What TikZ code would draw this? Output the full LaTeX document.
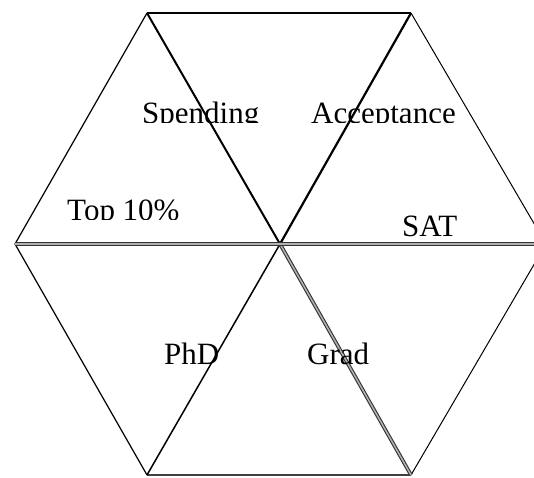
\documentclass[tikz,border=0pt]{standalone}
\usepackage{fontspec}
\setmainfont{Liberation Serif}
\begin{document}
\begin{tikzpicture}[x=1pt,y=-1pt,
  edge/.style={draw=black,line width=1.2pt},
  spoke/.style={draw=black,line width=2pt},
  dbl/.style={draw=black!80,line width=1.1pt,double=black!30,double distance=1.5pt},
  lbl/.style={anchor=base west,inner sep=0pt,font=\fontsize{31}{31}\selectfont}]
\useasboundingbox (0,0) rectangle (534,477);
\clip (0,0) rectangle (534,477);
\coordinate (C) at (280,244);
\coordinate (TL) at (147,13);
\coordinate (TR) at (411,13);
\coordinate (R) at (546,244);
\coordinate (BR) at (411,475);
\coordinate (BL) at (147,475);
\coordinate (L) at (15,244);
% hexagon outline
\draw[edge,line width=1.5pt] (TL) -- (TR);
\draw[edge,line width=1pt] (TR) -- (R) -- (BR);
\draw[edge,draw=black!75,line width=1.1pt] (BR) -- (BL);
\draw[edge] (BL) -- (L) -- (TL);
% spokes
\draw[spoke] (TL) -- (C);
\draw[spoke,line width=2.2pt] (TR) -- (C);
\draw[spoke,line width=1.5pt] (C) -- (BL);
\draw[dbl] (C) -- (BR);
\draw[dbl] (L) -- (R);
% labels
\begin{scope}
\clip (0,0) rectangle (534,122);
\node[lbl] (spending) at (142,123) {Spending};
\node[lbl] (acceptance) at (311,123) {Acceptance};
\end{scope}
\begin{scope}
\clip (0,0) rectangle (534,219);
\node[lbl] (top) at (67,220) {Top 10\%};
\end{scope}
\node[lbl] (sat) at (402,236) {SAT};
\node[lbl] (phd) at (164,364) {PhD};
\node[lbl] (grad) at (307,364) {Grad};
\end{tikzpicture}
\end{document}
